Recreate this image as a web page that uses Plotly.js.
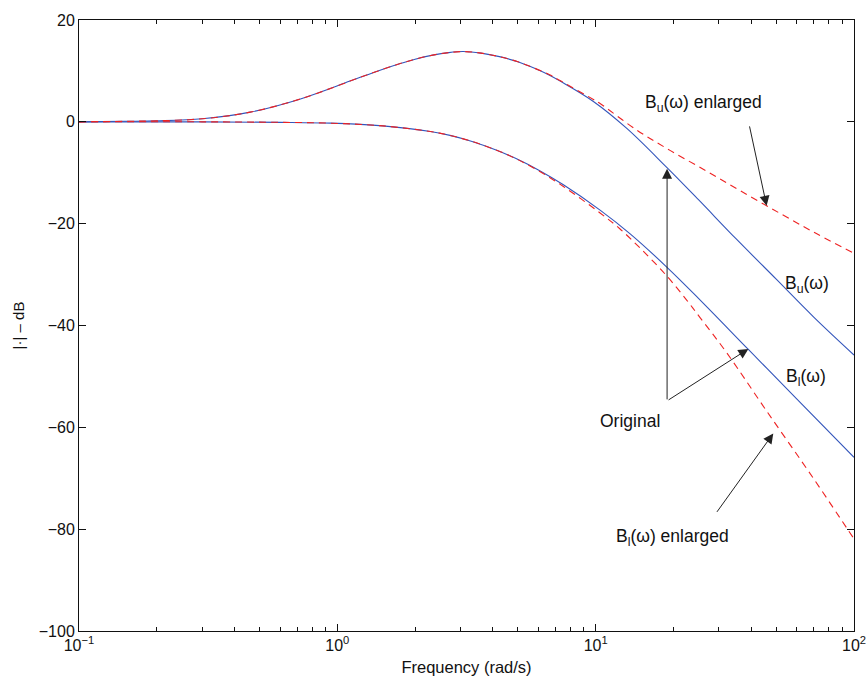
<!DOCTYPE html>
<html>
<head>
<meta charset="utf-8">
<script src="https://cdn.plot.ly/plotly-3.0.1.min.js"></script>
<style>
  html, body { margin: 0; padding: 0; background: #fff; }
  #chart { width: 867px; height: 683px; }
</style>
</head>
<body>
<div id="chart"></div>
<script>
// ---- Data ----
const freqBu = [0.1, 0.15, 0.2, 0.3, 0.46, 0.72, 1.12, 1.4, 1.74, 2.0, 2.34, 2.7, 3.07, 3.6, 4.24, 5.0, 5.5, 6.6, 7.28, 9.8, 13.2, 18.8, 25, 35, 50, 70, 100];
const magBu  = [0, 0.1, 0.2, 0.6, 1.9, 4.5, 8.0, 9.8, 11.4, 12.3, 13.1, 13.6, 13.8, 13.5, 12.8, 11.8, 11.0, 9.2, 8.0, 4.0, -1.3, -8.9, -15.3, -23.0, -30.9, -38.4, -45.8];

const freqBuEnl = [0.1, 0.15, 0.2, 0.3, 0.46, 0.72, 1.12, 1.4, 1.74, 2.0, 2.34, 2.7, 3.07, 3.6, 4.24, 5.0, 5.5, 6.6, 7.28, 9.8, 10.4, 14.4, 19.4, 26.9, 36.2, 51.8, 71.8, 100];
const magBuEnl  = [0, 0.1, 0.2, 0.6, 1.9, 4.5, 8.0, 9.8, 11.4, 12.3, 13.1, 13.6, 13.8, 13.5, 12.8, 11.8, 11.0, 9.3, 8.1, 4.4, 3.6, -1.6, -5.6, -9.7, -13.5, -18.0, -22.0, -25.8];

const freqBl = [0.1, 0.3, 0.6, 0.94, 1.5, 2.29, 2.73, 3.3, 4.14, 4.94, 6.0, 7.5, 10.4, 13.6, 18.8, 25, 39, 60, 100];
const magBl  = [0, 0, -0.1, -0.26, -0.8, -1.9, -2.66, -3.81, -5.58, -7.27, -9.46, -12.37, -17.34, -22.0, -28.47, -34.66, -44.7, -54.4, -65.9];

const freqBlEnl = [0.1, 0.3, 0.6, 0.94, 1.5, 2.29, 2.73, 3.3, 4.14, 4.94, 6.0, 7.5, 10.4, 12.4, 15, 18.8, 22.5, 25.4, 32.1, 45.9, 69.6, 93.8, 100];
const magBlEnl  = [0, 0, -0.1, -0.26, -0.8, -1.9, -2.66, -3.81, -5.58, -7.3, -9.6, -12.7, -17.9, -21.0, -25.0, -30.2, -35.0, -38.5, -45.3, -56.8, -70.0, -79.8, -81.9];

const xTickVals = [0.1, 1, 10, 100];
const xTickText = ['10<sup>−1</sup>', '10<sup>0</sup>', '10<sup>1</sup>', '10<sup>2</sup>'];
const xMinorVals = [0.2,0.3,0.4,0.5,0.6,0.7,0.8,0.9, 2,3,4,5,6,7,8,9, 20,30,40,50,60,70,80,90];
const yTickVals = [-100, -80, -60, -40, -20, 0, 20];

// annotation anchors (data coordinates: frequency, dB)
const labelText = ['B<sub>u</sub>(ω) enlarged', 'B<sub>u</sub>(ω)', 'B<sub>l</sub>(ω)', 'Original', 'B<sub>l</sub>(ω) enlarged'];
const labelFreq = [26.2, 65.8, 65.2, 13.6, 19.75];
const labelMag  = [3.6, -32.0, -50.2, -58.8, -81.6];

const arrowTipFreq  = [45.9, 18.9, 39.0, 48.7];
const arrowTipMag   = [-16.5, -9.2, -44.6, -61.2];
const arrowTailFreq = [39.3, 18.9, 18.9, 29.2];
const arrowTailMag  = [-0.6, -54.8, -54.8, -76.9];

// ---- Plot ----
const blue = '#3355bb';
const red = '#ee2222';
const FONT = 'Liberation Sans, Arial, sans-serif';
const traces = [
  {x: freqBu, y: magBu, mode: 'lines', line: {color: blue, width: 1.1, shape: 'spline', smoothing: 1}, name: 'Bu'},
  {x: freqBl, y: magBl, mode: 'lines', line: {color: blue, width: 1.1, shape: 'spline', smoothing: 1}, name: 'Bl'},
  {x: freqBuEnl, y: magBuEnl, mode: 'lines', line: {color: red, width: 1.1, dash: '7px,5px', shape: 'spline', smoothing: 1}, name: 'Bu enlarged'},
  {x: freqBlEnl, y: magBlEnl, mode: 'lines', line: {color: red, width: 1.1, dash: '7px,5px', shape: 'spline', smoothing: 1}, name: 'Bl enlarged'}
];

const annotations = [];
for (let i = 0; i < labelText.length; i++) {
  annotations.push({
    x: Math.log10(labelFreq[i]), y: labelMag[i], xref: 'x', yref: 'y',
    text: labelText[i], showarrow: false,
    font: {family: FONT, size: 17.5, color: '#111'},
    xanchor: 'center', yanchor: 'middle'
  });
}
for (let i = 0; i < arrowTipFreq.length; i++) {
  annotations.push({
    x: Math.log10(arrowTipFreq[i]), y: arrowTipMag[i], xref: 'x', yref: 'y',
    ax: Math.log10(arrowTailFreq[i]), ay: arrowTailMag[i], axref: 'x', ayref: 'y',
    text: '', showarrow: true, arrowhead: 2, arrowsize: 2, arrowwidth: 1,
    arrowcolor: '#222', standoff: 0, startstandoff: 0
  });
}

const tickFont = {family: FONT, size: 16, color: '#111'};
const layout = {
  width: 867, height: 683,
  margin: {l: 79, r: 13, t: 20, b: 52},
  paper_bgcolor: '#fff', plot_bgcolor: '#fff',
  showlegend: false,
  font: tickFont,
  xaxis: {
    type: 'log', range: [-1, 2],
    tickvals: xTickVals, ticktext: xTickText,
    ticks: 'inside', ticklen: 7, tickcolor: '#111', tickwidth: 1,
    minor: {tickvals: xMinorVals, ticks: 'inside', ticklen: 4, tickcolor: '#111', tickwidth: 1, showgrid: false},
    showline: true, linecolor: '#111', linewidth: 1, mirror: 'ticks',
    showgrid: false, zeroline: false, tickfont: tickFont,
    title: {text: 'Frequency (rad/s)', font: {family: FONT, size: 16.5, color: '#111'}, standoff: 8},
    automargin: false
  },
  yaxis: {
    range: [-100, 20], tickvals: yTickVals,
    ticks: 'inside', ticklen: 7, tickcolor: '#111', tickwidth: 1,
    showline: true, linecolor: '#111', linewidth: 1, mirror: 'ticks',
    showgrid: false, zeroline: false, tickfont: tickFont,
    title: {text: '|·| – dB', font: {family: FONT, size: 15, color: '#111'}, standoff: 10},
    automargin: false
  },
  annotations: annotations
};

Plotly.newPlot('chart', traces, layout, {displayModeBar: false, staticPlot: true});
</script>
</body>
</html>
